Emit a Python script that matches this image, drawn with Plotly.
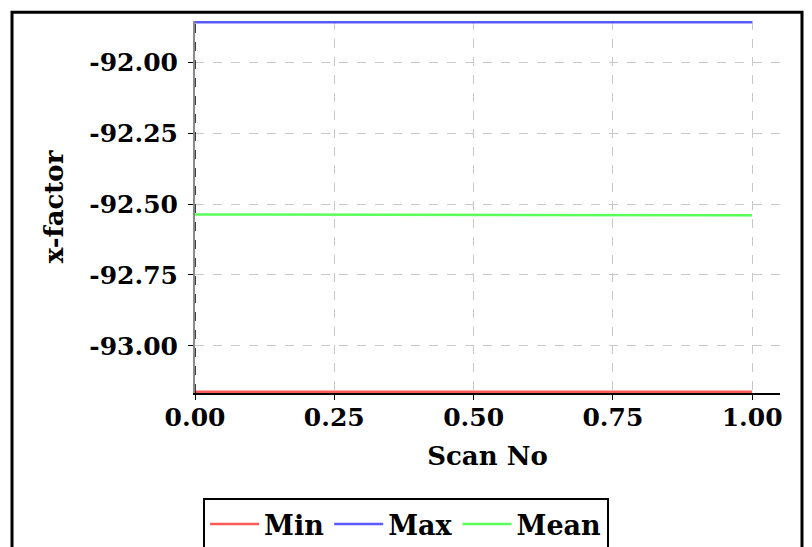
import plotly.graph_objects as go

# Scan statistics
scan_no = [0, 1]
x_min = [-93.162, -93.162]
x_max = [-91.859, -91.859]
x_mean = [-92.537, -92.540]

series_names = ["Min", "Max", "Mean"]
series_colors = ["#ff5a5a", "#5a5aff", "#5aff5a"]

y_tickvals = [-93.0, -92.75, -92.5, -92.25, -92.0]
y_ticktext = ["-93.00", "-92.75", "-92.50", "-92.25", "-92.00"]

fig = go.Figure()
for name, vals, col in zip(series_names, [x_min, x_max, x_mean], series_colors):
    fig.add_trace(go.Scatter(
        x=scan_no, y=vals, mode="lines", name=name,
        line={'color': col, 'width': 2.5},
    ))

axis_common = dict(
    showgrid=True,
    gridcolor="#c8c8c8",
    griddash="dash",
    gridwidth=1,
    ticks="outside",
    ticklen=5,
    tickcolor="black",
    zeroline=False,
    tickfont={'size': 25},
)

fig.update_xaxes(
    **axis_common,
    range=[0, 1.05],
    dtick=0.25,
    tickformat=".2f",
    ticklabelstandoff=-4,
    showline=True,
    linecolor="black",
    linewidth=2,
    title={'text': "Scan No", 'standoff': 16, 'font': {'size': 26}},
)
fig.update_yaxes(
    **axis_common,
    range=[min(x_min) - 0.004, max(x_max) + 0.004],
    tickvals=y_tickvals,
    ticktext=y_ticktext,
    ticklabelstandoff=5,
    showline=True,
    linecolor="#8a8a8a",
    linewidth=2,
    title={'text': "x-factor", 'standoff': 18, 'font': {'size': 26}},
)

# dashed marker over the y axis line at x = 0
fig.add_shape(type="line", xref="x", yref="paper", x0=0, x1=0, y0=0, y1=1,
              line={'color': "black", 'width': 1.5, 'dash': "dash"})

# outer frame
fig.add_shape(type="rect", xref="paper", yref="paper",
              x0=-0.3128, x1=1.0376, y0=-0.5, y1=1.0236,
              line={'color': "black", 'width': 3}, layer="above")

fig.update_layout(
    width=804,
    height=539,
    autosize=False,
    margin={'l': 187, 'r': 32, 't': 13, 'b': 154, 'autoexpand': False},
    paper_bgcolor="white",
    plot_bgcolor="white",
    font={'family': "DejaVu Serif", 'size': 24, 'color': "black", 'weight': "bold"},
    showlegend=True,
    legend={
        'orientation': "h",
        'x': 0.3607, 'xanchor': "center",
        'y': -0.2822, 'yanchor': "top",
        'bordercolor': "black",
        'borderwidth': 2,
        'bgcolor': "white",
        'itemwidth': 49,
        'font': {'size': 27},
    },
)

fig.write_html("out.html")
